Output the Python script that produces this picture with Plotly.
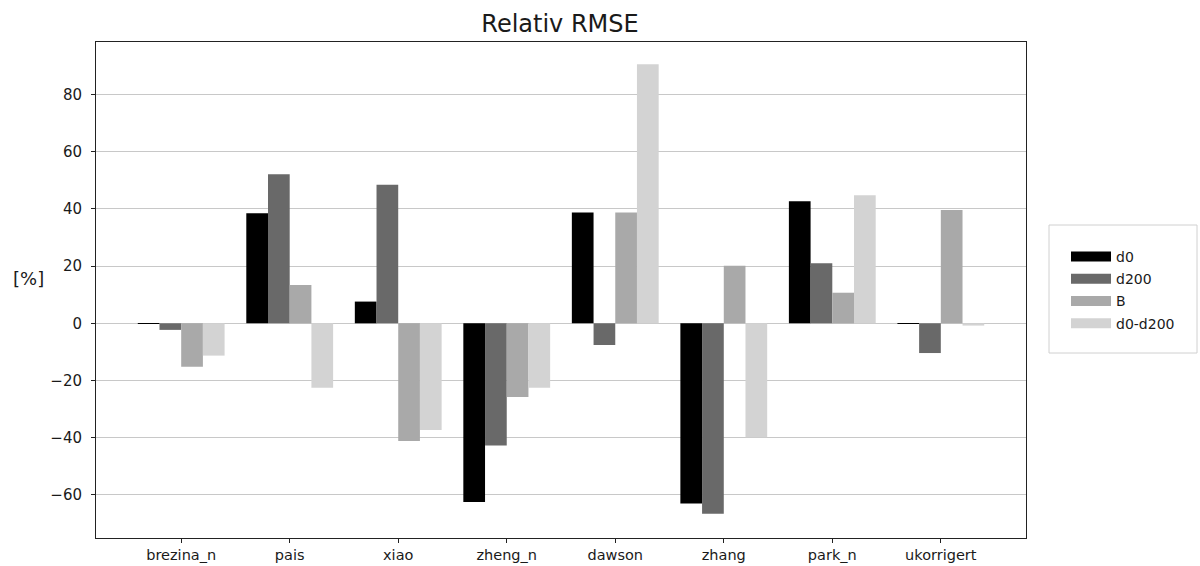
import plotly.graph_objects as go

# Relative RMSE per method, one series per parameter set
categories = ["brezina_n", "pais", "xiao", "zheng_n", "dawson", "zhang", "park_n", "ukorrigert"]
series_names = ["d0", "d200", "B", "d0-d200"]
d0 = [-0.2, 38.5, 7.6, -62.5, 38.8, -63.0, 42.7, -0.2]
d200 = [-2.3, 52.1, 48.5, -42.7, -7.6, -66.6, 21.0, -10.4]
b_vals = [-15.2, 13.4, -41.2, -25.8, 38.8, 20.1, 10.7, 39.6]
d0_d200 = [-11.3, -22.5, -37.3, -22.5, 90.6, -39.9, 44.8, -0.8]
colors = ["#000000", "#696969", "#a9a9a9", "#d3d3d3"]

FONT = "DejaVu Sans"
TEXT = "#1a1a1a"

# plot area in pixels
L, R, T, B = 96, 1026, 42, 538
W, H = 1200, 566
PW, PH = R - L, B - T

fig = go.Figure()
for name, vals, col in zip(series_names, [d0, d200, b_vals, d0_d200], colors):
    fig.add_trace(go.Bar(
        x=categories, y=vals, name=name, showlegend=False,
        marker=dict(color=col, line=dict(width=0)),
    ))

# wide rectangular legend swatches via thick line entries
for name, col in zip(series_names, colors):
    fig.add_trace(go.Scatter(
        x=[None], y=[None], mode="lines", name=name, legendgroup=name,
        line=dict(color=col, width=10), showlegend=True,
    ))

fig.update_layout(
    width=W, height=H,
    margin=dict(l=L, r=W - R, t=T, b=H - B),
    paper_bgcolor="white", plot_bgcolor="white",
    barmode="group", bargap=0.2, bargroupgap=0,
    font=dict(family=FONT, size=15, color=TEXT),
    title=dict(text="Relativ RMSE", x=560 / W, xanchor="center",
               y=1 - 24 / H, yanchor="middle", yref="container",
               font=dict(family=FONT, size=24, color=TEXT)),
    legend=dict(x=(1066 - L) / PW, y=(B - 241) / PH, xanchor="left", yanchor="top",
                borderwidth=0, bgcolor="rgba(0,0,0,0)",
                font=dict(family=FONT, size=14, color=TEXT),
                itemwidth=40, tracegroupgap=1, traceorder="grouped"),
    showlegend=True,
    shapes=[dict(
        type="rect", xref="paper", yref="paper",
        x0=(1049 - L) / PW, x1=(1197 - L) / PW,
        y0=(B - 353) / PH, y1=(B - 225) / PH,
        line=dict(color="#d0d0d0", width=1), fillcolor="white", layer="below",
    )],
)

fig.update_xaxes(
    type="category", range=[-0.785, 7.785], automargin=False,
    showgrid=False, zeroline=False,
    showline=True, linecolor="#222222", linewidth=1, mirror=True,
    ticks="outside", ticklen=4, tickcolor="#222222", ticklabelstandoff=0,
    tickfont=dict(family=FONT, size=14.5, color=TEXT),
    layer="above traces",
)
fig.update_yaxes(
    range=[-75.1, 98.4], automargin=False,
    tickvals=[-60, -40, -20, 0, 20, 40, 60, 80],
    showgrid=True, gridcolor="#c8c8c8", gridwidth=1,
    zeroline=True, zerolinecolor="#c8c8c8", zerolinewidth=1,
    showline=True, linecolor="#222222", linewidth=1, mirror=True,
    ticks="outside", ticklen=4, tickcolor="#222222", ticklabelstandoff=6,
    tickfont=dict(family=FONT, size=15, color=TEXT),
    layer="above traces",
)

# Horizontal y-axis label
fig.add_annotation(
    text="[%]", xref="paper", yref="paper",
    x=(28.5 - L) / PW, y=(B - 278) / PH,
    xanchor="center", yanchor="middle", showarrow=False,
    font=dict(family=FONT, size=18, color=TEXT),
)

fig.write_html("out.html")
